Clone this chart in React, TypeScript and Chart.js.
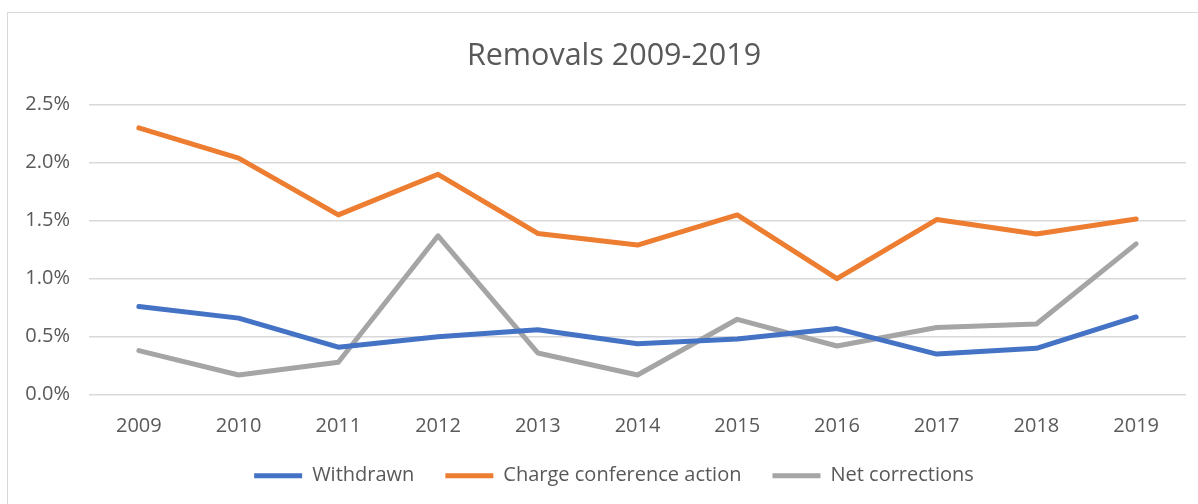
import React, { useEffect, useRef } from "react";
import { Chart, registerables } from "chart.js";

Chart.register(...registerables);

const years = ["2009", "2010", "2011", "2012", "2013", "2014", "2015", "2016", "2017", "2018", "2019"];
const withdrawn = [0.76, 0.66, 0.41, 0.5, 0.56, 0.44, 0.48, 0.57, 0.35, 0.4, 0.67];
const chargeConference = [2.3, 2.04, 1.55, 1.9, 1.39, 1.29, 1.55, 1.0, 1.51, 1.385, 1.515];
const netCorrections = [0.38, 0.17, 0.28, 1.37, 0.36, 0.17, 0.65, 0.42, 0.58, 0.61, 1.3];
const seriesNames = ["Withdrawn", "Charge conference action", "Net corrections"];
const titleText = "Removals 2009-2019";

const FONT = "'Open Sans', sans-serif";
const TEXT = "#595959";
const CANVAS_W = 1210;
const CANVAS_H = 504;

export default function App() {
  const ref = useRef<HTMLCanvasElement | null>(null);

  useEffect(() => {
    if (!ref.current) return;
    const mk = (label: string, data: number[], color: string) => ({
      label,
      data,
      borderColor: color,
      backgroundColor: color,
      borderWidth: 5,
      pointRadius: 0,
      pointHoverRadius: 0,
      tension: 0,
      borderCapStyle: "round" as const,
      borderJoinStyle: "round" as const,
      fill: false,
      yAxisID: "y",
    });
    const chart = new Chart(ref.current, {
      type: "line",
      data: {
        labels: years,
        datasets: [
          mk(seriesNames[0], withdrawn, "#4472C4"),
          mk(seriesNames[1], chargeConference, "#ED7D31"),
          mk(seriesNames[2], netCorrections, "#A5A5A5"),
        ],
      },
      options: {
        responsive: false,
        animation: false,
        devicePixelRatio: 1,
        layout: { padding: { left: 26, right: 8, top: 0, bottom: 8.3 } },
        plugins: {
          title: {
            display: true,
            text: titleText,
            color: TEXT,
            font: { family: FONT, size: 30.5, weight: "normal", lineHeight: 1.2 },
            padding: { top: 37.7, bottom: 30.4 },
          },
          legend: {
            display: true,
            position: "bottom",
            labels: {
              usePointStyle: true,
              pointStyle: "line",
              pointStyleWidth: 48,
              padding: 31,
              color: TEXT,
              font: { family: FONT, size: 20 },
            },
          },
          tooltip: { enabled: false },
        },
        scales: {
          x: {
            offset: true,
            grid: { display: false, drawTicks: false, offset: true },
            border: { display: false },
            ticks: { color: TEXT, font: { family: FONT, size: 20 }, padding: 19.5, maxRotation: 0 },
            afterFit: (scale: any) => {
              scale.height = 40;
            },
          },
          y: {
            min: 0,
            max: 2.5,
            grid: { color: "#d9d9d9", lineWidth: 1.5, drawTicks: false },
            border: { display: false },
            ticks: {
              stepSize: 0.5,
              color: TEXT,
              font: { family: FONT, size: 20 },
              padding: 19,
              callback: (v: any) => Number(v).toFixed(1) + "%",
            },
            afterFit: (scale: any) => {
              scale.width = 63;
            },
          },
          yRight: {
            position: "right",
            display: true,
            min: 0,
            max: 2.5,
            grid: { display: false, drawTicks: false },
            border: { display: false },
            ticks: { display: false },
            afterFit: (scale: any) => {
              scale.width = 16;
            },
          },
        },
      },
    });
    return () => chart.destroy();
  }, []);

  return (
    <div
      style={{
        position: "fixed",
        left: 0,
        top: 0,
        width: 1198,
        height: 504,
        overflow: "hidden",
        background: "#ffffff",
      }}
    >
      <div
        style={{
          position: "absolute",
          left: 7,
          top: 12,
          width: 1400,
          height: 700,
          border: "1.5px solid #d9d9d9",
        }}
      />
      <canvas
        ref={ref}
        width={CANVAS_W}
        height={CANVAS_H}
        style={{ position: "absolute", left: 0, top: 0, width: CANVAS_W, height: CANVAS_H }}
      />
    </div>
  );
}
